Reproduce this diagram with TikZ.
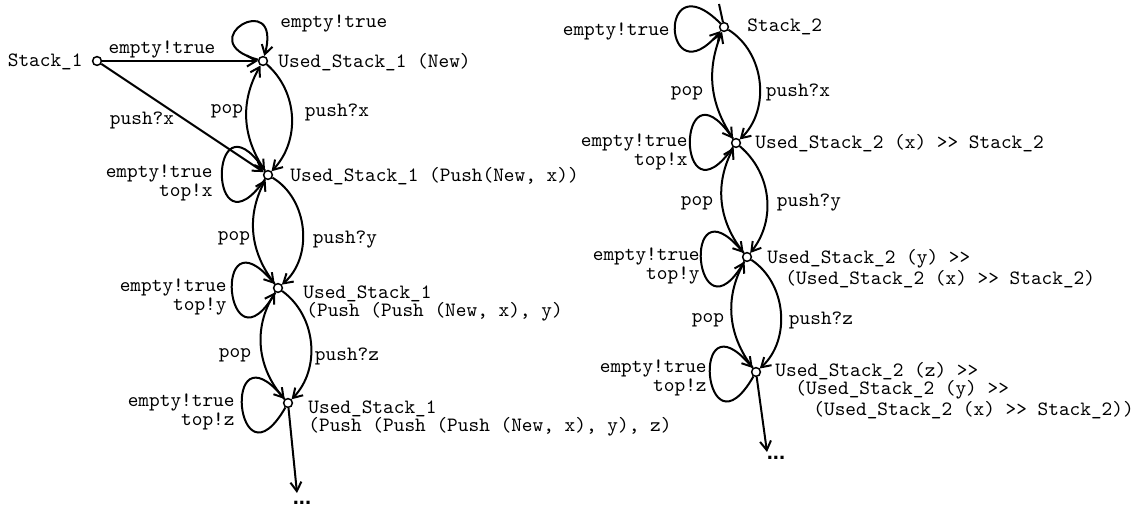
\documentclass[tikz,border=0pt]{standalone}
\usepackage{fontspec}
\setsansfont{Liberation Sans}
\usetikzlibrary{arrows.meta}

\begin{document}
\begin{tikzpicture}[x=0.5pt,y=0.5pt,
  state/.style={circle,draw,fill=white,line width=0.75pt,inner sep=0pt,minimum size=4.4pt},
  lbl/.style={font=\ttfamily\fontsize{10.17}{11}\selectfont,inner sep=0pt},
  pair/.style={font=\ttfamily\fontsize{10.17}{8.4}\selectfont,inner sep=0pt,align=right,anchor=east},
  multi/.style={font=\ttfamily\fontsize{10.17}{9}\selectfont,inner sep=0pt,align=left,anchor=west},
  trans/.style={line width=1pt,-{Straight Barb[length=4.5pt,width=5.5pt]}},
  plain/.style={line width=1pt},
  dots/.style={font=\sffamily\bfseries\fontsize{11}{11}\selectfont,inner sep=0pt}
]
\useasboundingbox (0,0) rectangle (1135,-507);

% ---- left machine: Stack_1 ----
\node[state] (s1) at (97,-61) {};
\node[state] (n1) at (263,-61) {};
\node[state] (n2) at (268,-175) {};
\node[state] (n3) at (278,-288) {};
\node[state] (n4) at (288,-403) {};
\coordinate (e1) at (297,-493);
\node[dots] (d1) at (302,-503) {...};

\node[lbl,anchor=east] (ts1) at (83,-62) {Stack\_1};
\node[lbl,anchor=west] (tn1) at (278,-62) {Used\_Stack\_1 (New)};
\node[lbl,anchor=west] (tn2) at (290,-176) {Used\_Stack\_1 (Push(New, x))};
\node[multi] (tn3) at (303,-303) {Used\_Stack\_1\\\hspace*{1.5pt}(Push (Push (New, x), y)};
\node[multi] (tn4) at (308,-418) {Used\_Stack\_1\\(Push (Push (Push (New, x), y), z)};

\draw[trans] (s1) -- (n1);
\draw[trans] (s1) -- (n2);
\draw[trans] (n1.165) .. controls +(165:72) and +(75:72) .. (n1.75);
\draw[trans] (n1) to[bend left=46] (n2);
\draw[trans] (n2) to[bend left=32] (n1);
\draw[trans] (n2) to[bend left=54] (n3);
\draw[trans] (n3) to[bend left=33] (n2);
\draw[trans] (n3) to[bend left=49] (n4);
\draw[trans] (n4) to[bend left=37] (n3);
\draw[trans] (n2.235) .. controls +(235:100) and +(125:100) .. (n2.125);
\draw[trans] (n3.240) .. controls +(240:100) and +(130:100) .. (n3.130);
\draw[trans] (n4.240) .. controls +(240:100) and +(130:100) .. (n4.130);
\draw[trans] (n4) -- (e1);

\node[lbl] (l1) at (162,-49) {empty!true};
\node[lbl] (l2) at (142,-120) {push?x};
\node[lbl,anchor=west] (l3) at (280,-23) {empty!true};
\node[lbl] (l4) at (227,-111) {pop};
\node[lbl] (l5) at (337,-112) {push?x};
\node[pair] (l6) at (213,-183) {empty!true\\top!x};
\node[lbl] (l8) at (234,-238) {pop};
\node[lbl] (l9) at (345,-240) {push?y};
\node[pair] (l10) at (227,-297) {empty!true\\top!y};
\node[lbl] (l12) at (235,-355) {pop};
\node[lbl] (l13) at (347,-356) {push?z};
\node[pair] (l14) at (235,-412) {empty!true\\top!z};

% ---- right machine: Stack_2 ----
\coordinate (init) at (719,-4);
\node[state] (s2) at (724,-27) {};
\node[state] (a) at (736,-143) {};
\node[state] (b) at (747,-257) {};
\node[state] (c) at (756,-372) {};
\coordinate (e2) at (767,-452);
\node[dots] (d2) at (776,-458) {...};

\node[lbl,anchor=west] (ts2) at (747,-27) {Stack\_2};
\node[lbl,anchor=west] (ta) at (755,-143) {Used\_Stack\_2 (x) >{}> Stack\_2};
\node[multi] (tb) at (767,-269) {Used\_Stack\_2 (y) >{}>\\\hspace*{9pt}(Used\_Stack\_2 (x) >{}> Stack\_2)};
\node[multi] (tc) at (775,-391) {Used\_Stack\_2 (z) >{}>\\\hspace*{10pt}(Used\_Stack\_2 (y) >{}>\\\hspace*{19pt}(Used\_Stack\_2 (x) >{}> Stack\_2))};

\draw[plain] (init) -- (s2);
\draw[trans] (s2.135) .. controls +(135:90) and +(230:90) .. (s2.230);
\draw[trans] (s2) to[bend left=52] (a);
\draw[trans] (a) to[bend left=28] (s2);
\draw[trans] (a) to[bend left=44] (b);
\draw[trans] (b) to[bend left=33] (a);
\draw[trans] (b) to[bend left=52] (c);
\draw[trans] (c) to[bend left=33] (b);
\draw[trans] (a.235) .. controls +(235:100) and +(125:100) .. (a.125);
\draw[trans] (b.240) .. controls +(240:100) and +(130:100) .. (b.130);
\draw[trans] (c.240) .. controls +(240:100) and +(130:100) .. (c.130);
\draw[trans] (c) -- (e2);

\node[lbl,anchor=east] (r1) at (670,-31) {empty!true};
\node[lbl] (r2) at (687,-93) {pop};
\node[lbl] (r3) at (798,-92) {push?x};
\node[pair] (r4) at (688,-152) {empty!true\\top!x};
\node[lbl] (r6) at (697,-203) {pop};
\node[lbl] (r7) at (809,-203) {push?y};
\node[pair] (r8) at (700,-266) {empty!true\\top!y};
\node[lbl] (r10) at (708,-320) {pop};
\node[lbl] (r11) at (821,-320) {push?z};
\node[pair] (r12) at (707,-378) {empty!true\\top!z};
\end{tikzpicture}
\end{document}
